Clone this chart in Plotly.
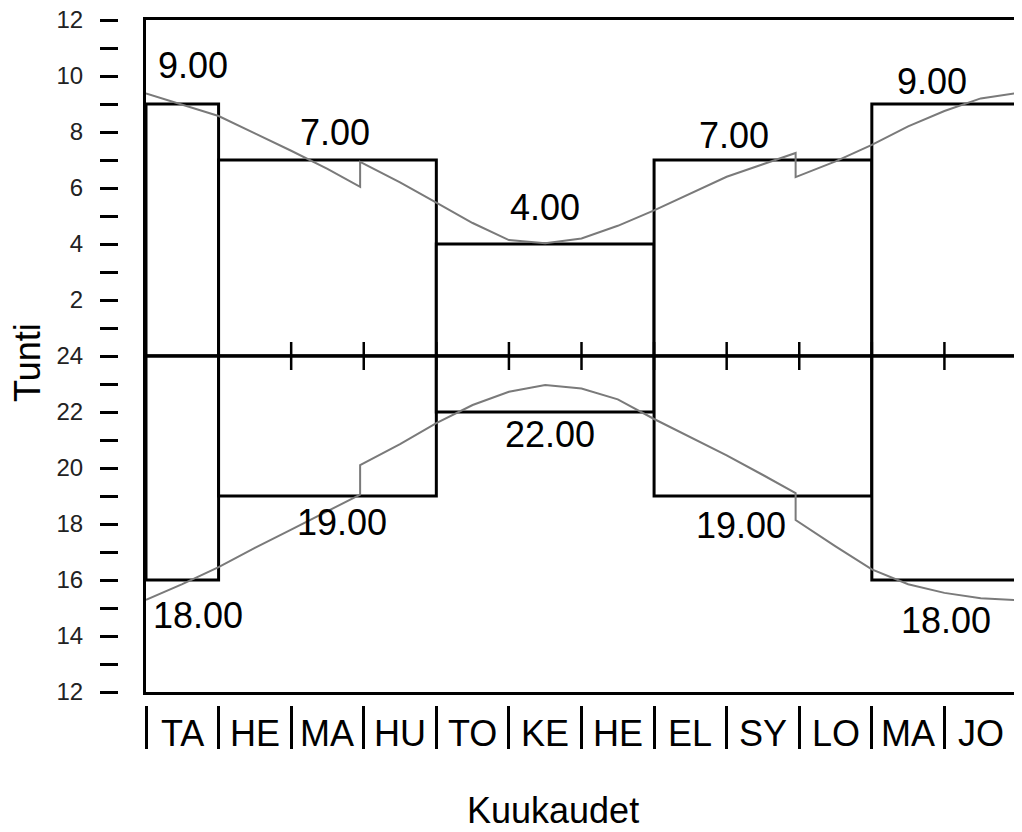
import plotly.graph_objects as go

# ---------------- data ----------------
months = ["TA", "HE", "MA", "HU", "TO", "KE", "HE", "EL", "SY", "LO", "MA", "JO"]
month_bounds = list(range(0, 13))

# step groups (month index start / end)
group_start = [0, 1, 4, 7, 10]
group_end = [1, 4, 7, 10, 12]
sunrise_step = [9, 7, 4, 7, 9]           # upper half (hours)
sunset_step = [16, 19, 22, 19, 16]       # lower half (hours, as drawn)
sunrise_text = ["9.00", "7.00", "4.00", "7.00", "9.00"]
sunset_text = ["18.00", "19.00", "22.00", "19.00", "18.00"]

# daily curves (month index, hours)
curve_t = [0, 0.5, 1, 1.5, 2, 2.5, 2.95, 2.95, 3.5, 4, 4.5, 5, 5.5, 6, 6.5, 7,
           7.5, 8, 8.5, 8.95, 8.95, 9.5, 10, 10.5, 11, 11.5, 12]
sunrise_curve = [9.38, 8.98, 8.57, 7.95, 7.33, 6.68, 6.04, 6.93, 6.2, 5.48, 4.75,
                 4.14, 4.03, 4.2, 4.65, 5.2, 5.8, 6.4, 6.85, 7.25, 6.39, 6.95,
                 7.54, 8.2, 8.75, 9.2, 9.39]
sunset_curve = [15.29, 15.85, 16.46, 17.15, 17.8, 18.45, 19.05, 20.1, 20.85, 21.6,
                22.25, 22.72, 22.96, 22.84, 22.45, 21.75, 21.1, 20.45, 19.75, 19.1,
                18.14, 17.2, 16.38, 15.85, 15.54, 15.35, 15.28]

# axis tick labels (position in hours-scale, -12..12)
ytick_vals = list(range(-12, 13))
ytick_text = ["12", "", "14", "", "16", "", "18", "", "20", "", "22", "", "24",
              "", "2", "", "4", "", "6", "", "8", "", "10", "", "12"]

# label placement (month index, axis value)
top_label_t = [0.65, 2.60, 5.50, 8.10, 10.83]
top_label_y = [10.39, 8.0, 5.29, 7.89, 9.79]
bot_label_t = [0.72, 2.70, 5.57, 8.20, 11.02]
bot_label_y = [-9.25, -5.93, -2.82, -6.04, -9.43]

# ---------------- figure ----------------
OFF = 8                      # page body margin
W, H = 1022 - OFF, 832 - OFF
ML, MR, MT = 100 - OFF, 5, 20 - OFF
MB = H - (822 - OFF)
PW, PH = W - ML - MR, H - MT - MB
def px_x(p):  # screen pixel -> paper x
    return (p - OFF - ML) / PW
def px_y(p):  # screen pixel -> paper y
    return (H - MB - (p - OFF)) / PH

FONT = "Arial, Liberation Sans, sans-serif"

fig = go.Figure()

centers = [(s + e) / 2 for s, e in zip(group_start, group_end)]
widths = [e - s for s, e in zip(group_start, group_end)]

fig.add_trace(go.Bar(x=centers, y=sunrise_step, width=widths, base=0,
                     marker=dict(color="white", line=dict(color="black", width=3)),
                     hoverinfo="skip", showlegend=False))
fig.add_trace(go.Bar(x=centers, y=[v - 24 for v in sunset_step], width=widths, base=0,
                     marker=dict(color="white", line=dict(color="black", width=3)),
                     hoverinfo="skip", showlegend=False))

fig.add_trace(go.Scatter(x=curve_t, y=sunrise_curve, mode="lines",
                         line=dict(color="#7a7a7a", width=2), showlegend=False))
fig.add_trace(go.Scatter(x=curve_t, y=[v - 24 for v in sunset_curve], mode="lines",
                         line=dict(color="#7a7a7a", width=2), showlegend=False))

# centre line and its month ticks
fig.add_trace(go.Scatter(x=[0, 12], y=[0, 0], mode="lines",
                         line=dict(color="black", width=3), showlegend=False))
fig.add_trace(go.Scatter(x=month_bounds[1:-1], y=[0] * 11, mode="markers",
                         marker=dict(symbol="line-ns", size=20,
                                     line=dict(color="black", width=2.5)),
                         showlegend=False))

fig.update_layout(
    width=W, height=H,
    margin=dict(l=ML, r=MR, t=MT, b=MB, autoexpand=False),
    plot_bgcolor="white", paper_bgcolor="white",
    barmode="overlay",
    showlegend=False,
    xaxis=dict(domain=[px_x(146), 1], range=[0, 12], showline=True, linecolor="black",
               linewidth=3, mirror=True, showgrid=False, zeroline=False,
               showticklabels=False, ticks="", automargin=False),
    yaxis=dict(domain=[px_y(692), 1], range=[-12, 12], showline=True, linecolor="black",
               linewidth=3, mirror=True, showgrid=False, zeroline=False,
               showticklabels=False, ticks="", automargin=False),
    xaxis2=dict(overlaying="x", anchor="free", position=px_y(705), range=[0, 12],
                domain=[px_x(146), 1], tickmode="array", tickvals=month_bounds,
                ticks="outside", ticklen=43, tickwidth=3, tickcolor="black",
                showticklabels=False, showline=False, showgrid=False, zeroline=False,
                automargin=False),
    yaxis2=dict(overlaying="y", anchor="free", position=px_x(118), range=[-12, 12],
                side="left", tickmode="array", tickvals=ytick_vals, ticktext=ytick_text,
                ticks="outside", ticklen=18, tickwidth=3, tickcolor="black",
                ticklabelstandoff=12, ticklabeloverflow="allow",
                tickfont=dict(family=FONT, size=24, color="#222"),
                showline=False, showgrid=False, zeroline=False, automargin=False),
)
# dummy trace to activate secondary axes
fig.add_trace(go.Scatter(x=[None], y=[None], xaxis="x2", yaxis="y2", showlegend=False))

ann = []
for t, y, s in zip(top_label_t, top_label_y, sunrise_text):
    ann.append(dict(x=t, y=y, xref="x", yref="y", text=s, showarrow=False,
                    xanchor="center", yanchor="middle",
                    font=dict(family=FONT, size=36, color="black")))
for t, y, s in zip(bot_label_t, bot_label_y, sunset_text):
    ann.append(dict(x=t, y=y, xref="x", yref="y", text=s, showarrow=False,
                    xanchor="center", yanchor="middle",
                    font=dict(family=FONT, size=36, color="black")))
for i, m in enumerate(months):
    ann.append(dict(x=i + 0.5, y=px_y(733), xref="x", yref="paper", text=m,
                    showarrow=False, xanchor="center", yanchor="middle",
                    font=dict(family=FONT, size=36, color="black")))
ann.append(dict(x=px_x(28), y=px_y(363), xref="paper", yref="paper", text="Tunti",
                textangle=-90, showarrow=False, xanchor="center", yanchor="middle",
                font=dict(family=FONT, size=36, color="black")))
ann.append(dict(x=px_x(553), y=px_y(810), xref="paper", yref="paper", text="Kuukaudet",
                showarrow=False, xanchor="center", yanchor="middle",
                font=dict(family=FONT, size=36, color="black")))
fig.update_layout(annotations=ann)

fig.write_html("out.html")
